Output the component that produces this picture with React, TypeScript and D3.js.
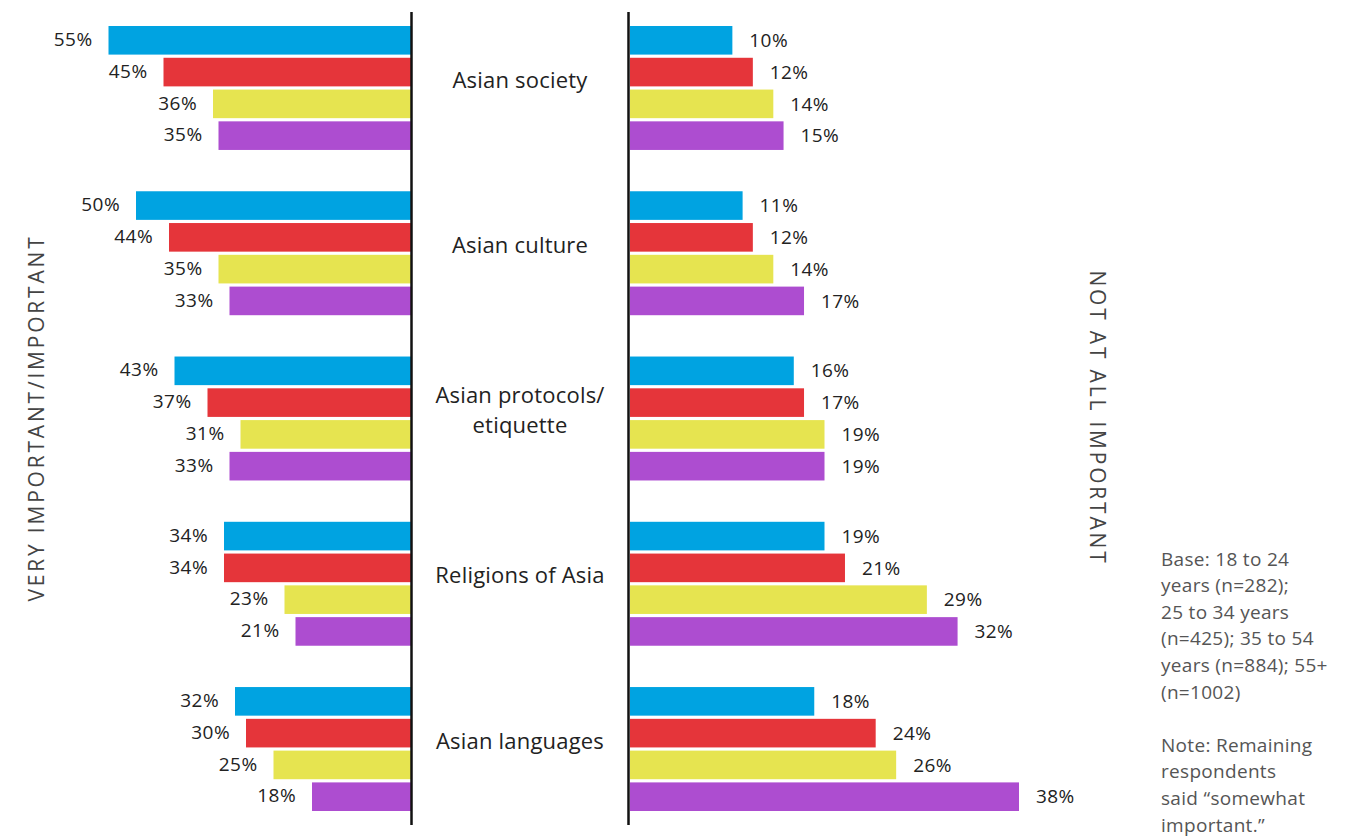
import React from "react";
import * as d3 from "d3";

const categories = ["Asian society", "Asian culture", "Asian protocols/\netiquette", "Religions of Asia", "Asian languages"];
const series = ["18 to 24", "25 to 34", "35 to 54", "55+"];
const colors = ["#00A3E1", "#E5353A", "#E6E450", "#AD4DD0"];

const veryImportant18to24 = [55, 50, 43, 34, 32];
const veryImportant25to34 = [45, 44, 37, 34, 30];
const veryImportant35to54 = [36, 35, 31, 23, 25];
const veryImportant55plus = [35, 33, 33, 21, 18];

const notImportant18to24 = [10, 11, 16, 19, 18];
const notImportant25to34 = [12, 12, 17, 21, 24];
const notImportant35to54 = [14, 14, 19, 29, 26];
const notImportant55plus = [15, 17, 19, 32, 38];

const leftTitle = "VERY IMPORTANT/IMPORTANT";
const rightTitle = "NOT AT ALL IMPORTANT";
const noteLines = [
  "Base: 18 to 24",
  "years (n=282);",
  "25 to 34 years",
  "(n=425); 35 to 54",
  "years (n=884); 55+",
  "(n=1002)",
  "",
  "Note: Remaining",
  "respondents",
  "said \u201csomewhat",
  "important.\u201d",
];

const leftData = [veryImportant18to24, veryImportant25to34, veryImportant35to54, veryImportant55plus];
const rightData = [notImportant18to24, notImportant25to34, notImportant35to54, notImportant55plus];

const W = 1357;
const H = 838;
const FONT = "'Open Sans', 'Noto Sans', sans-serif";

export default function App() {
  const y0 = d3.scaleBand<string>().domain(categories).range([26, 811]).paddingInner(0.25).paddingOuter(0);
  const y1 = d3.scaleBand<string>().domain(series).range([0, y0.bandwidth()]).paddingInner(0.1).paddingOuter(0);
  const xL = d3.scaleLinear().domain([0, 55]).range([411, 108.5]);
  const xR = d3.scaleLinear().domain([0, 38]).range([630, 1019]);
  const axisL = 411.5;
  const axisR = 628.5;
  const midX = (axisL + axisR) / 2;

  return (
    <svg width={W} height={H} style={{ position: "absolute", left: 0, top: 0, background: "#fff" }} fontFamily={FONT} fontWeight={400}>
      {categories.map((cat, ci) => {
        const gy = y0(cat)!;
        const lines = cat.split("\n");
        const cy = gy + y0.bandwidth() / 2 - 8;
        return (
          <g key={cat}>
            {series.map((s, si) => {
              const by = gy + y1(s)!;
              const bh = y1.bandwidth();
              const vL = leftData[si][ci];
              const vR = rightData[si][ci];
              return (
                <g key={s}>
                  <rect x={xL(vL)} y={by} width={xL(0) - xL(vL)} height={bh} fill={colors[si]} />
                  <text x={xL(vL) - 16} y={by + bh / 2 - 1} dy="0.35em" textAnchor="end" fontSize={19} letterSpacing={0.4} fill="#222">{vL}%</text>
                  <rect x={xR(0)} y={by} width={xR(vR) - xR(0)} height={bh} fill={colors[si]} />
                  <text x={xR(vR) + 17} y={by + bh / 2} dy="0.35em" textAnchor="start" fontSize={19} letterSpacing={0.4} fill="#222">{vR}%</text>
                </g>
              );
            })}
            {lines.map((ln, li) => (
              <text key={li} x={midX} y={cy + (li - (lines.length - 1) / 2) * 30} dy="0.35em" textAnchor="middle" fontSize={22} letterSpacing={0.2} fill="#222">{ln}</text>
            ))}
          </g>
        );
      })}
      <line x1={axisL} x2={axisL} y1={12} y2={825} stroke="#111" strokeWidth={2.5} />
      <line x1={axisR} x2={axisR} y1={12} y2={825} stroke="#111" strokeWidth={2.5} />
      <text transform={`translate(37,418) rotate(-90)`} textAnchor="middle" dy="0.35em" fontSize={21} letterSpacing={2.8} fill="#444">{leftTitle}</text>
      <text transform={`translate(1097,418) rotate(90)`} textAnchor="middle" dy="0.35em" fontSize={21} letterSpacing={2.8} fill="#444">{rightTitle}</text>
      {noteLines.map((ln, i) => (
        <text key={i} x={1161} y={559 + i * 26.6} dy="0.35em" fontSize={19} letterSpacing={0.3} fill="#555">{ln}</text>
      ))}
    </svg>
  );
}
